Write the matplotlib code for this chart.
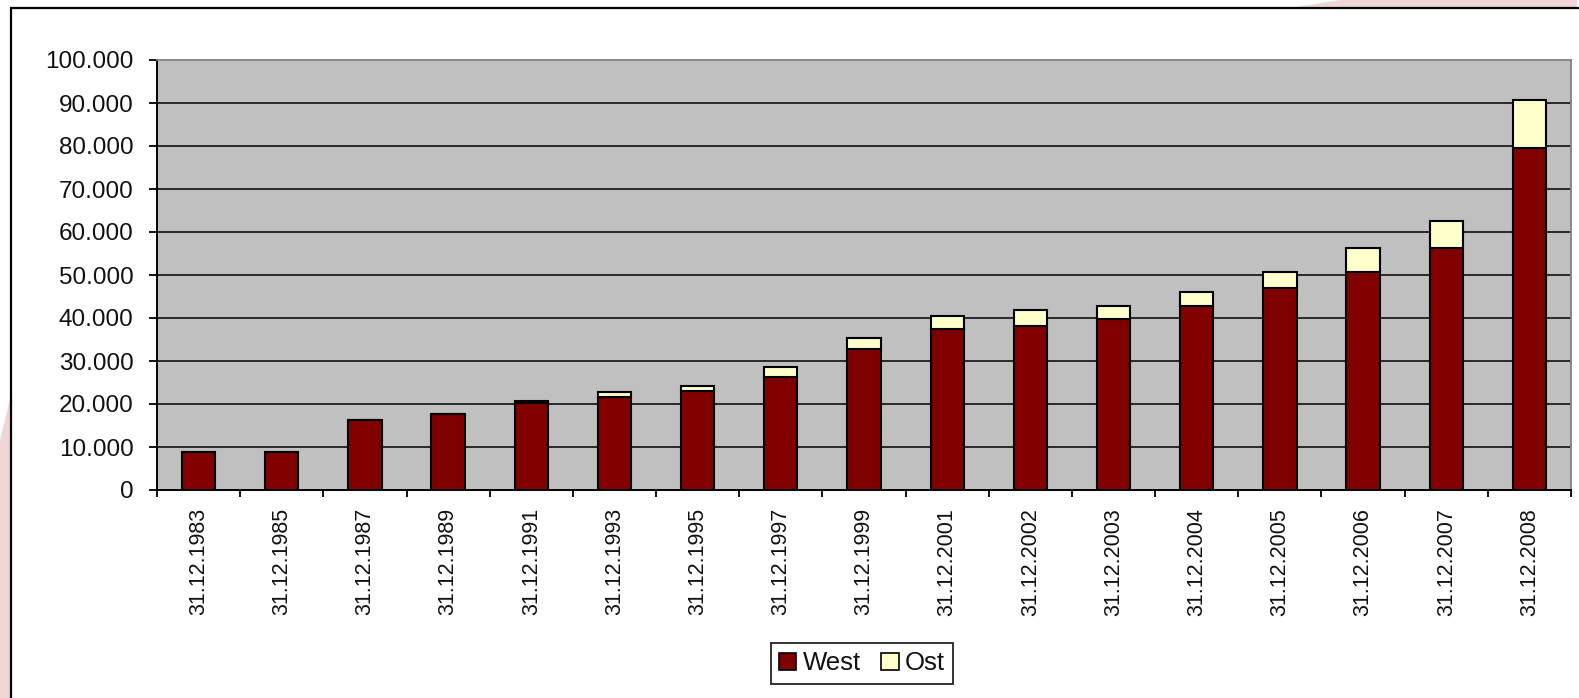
import matplotlib
matplotlib.use("Agg")
import matplotlib.pyplot as plt
from matplotlib.patches import Rectangle, Polygon, Patch
from matplotlib.ticker import FuncFormatter, FixedLocator
import numpy as np

categories = ["31.12.1983", "31.12.1985", "31.12.1987", "31.12.1989", "31.12.1991",
              "31.12.1993", "31.12.1995", "31.12.1997", "31.12.1999", "31.12.2001",
              "31.12.2002", "31.12.2003", "31.12.2004", "31.12.2005", "31.12.2006",
              "31.12.2007", "31.12.2008"]
west = [8900, 8900, 16300, 17700, 20300, 21600, 23000, 26300, 32900, 37400,
        38200, 39800, 42700, 46900, 50800, 56200, 79500]
ost = [0, 0, 0, 0, 300, 1300, 1300, 2200, 2400, 3100,
       3700, 3000, 3400, 3900, 5500, 6400, 11300]
series_names = ["West", "Ost"]
y_ticks = [0, 10000, 20000, 30000, 40000, 50000, 60000, 70000, 80000, 90000, 100000]

W, H = 1579, 698
fig = plt.figure(figsize=(W / 100, H / 100), dpi=100)
fig.patch.set_facecolor("white")
plt.rcParams['font.family'] = ['Liberation Sans', 'DejaVu Sans']

pink = "#f0d6d6"
# decorative background shapes
fig.patches.append(Polygon([(1293 / W, 1 - 7.5 / H), (1340 / W, 1.0), (1577 / W, 1.0), (1577 / W, 1 - 7.5 / H)],
                           closed=True, transform=fig.transFigure, facecolor=pink, edgecolor="none", zorder=0))
fig.patches.append(Polygon([(0, 0), (0, 1 - 440 / H), (11 / W, 1 - 395 / H), (11 / W, 0)],
                           closed=True, transform=fig.transFigure, facecolor=pink, edgecolor="none", zorder=0))
# chart area frame
fig.patches.append(Rectangle((11 / W, -0.05), 1.1, 1 - 7.5 / H + 0.05, transform=fig.transFigure,
                             facecolor="white", edgecolor="black", linewidth=1.6, zorder=1))

ax = fig.add_axes([157 / W, 1 - 490 / H, (1571 - 157) / W, (490 - 60) / H])
ax.set_zorder(2)
ax.set_facecolor("#c0c0c0")

x = np.arange(len(categories))
bw = 0.4
ax.bar(x, west, width=bw, color="#800000", edgecolor="black", linewidth=1.5, zorder=3, label=series_names[0])
ax.bar(x, ost, width=bw, bottom=west, color="#ffffcc", edgecolor="black", linewidth=1.5, zorder=3,
       label=series_names[1])

ax.set_xlim(-0.5, len(categories) - 0.5)
ax.set_ylim(0, 100000)
ax.yaxis.set_major_locator(FixedLocator(y_ticks))
ax.yaxis.set_major_formatter(FuncFormatter(lambda v, p: f"{int(v):,}".replace(",", ".")))
for v in y_ticks[1:-1]:
    ax.axhline(v, color="black", linewidth=1.1, zorder=2)

ax.set_xticks(x)
ax.set_xticklabels(categories, rotation=90, fontsize=15.5, color="#111111")
ax.set_xticks(np.arange(-0.5, len(categories) + 0.5, 1), minor=True)
ax.tick_params(axis="x", which="major", length=0, pad=13)
ax.tick_params(axis="x", which="minor", length=5, width=1.3, direction="out", color="black")
ax.tick_params(axis="y", which="major", length=6, width=1.3, direction="out", pad=11,
               labelsize=17.5, labelcolor="#111111")

for s in ["left", "bottom"]:
    ax.spines[s].set_color("black")
    ax.spines[s].set_linewidth(1.4)
for s in ["top", "right"]:
    ax.spines[s].set_color("#808080")
    ax.spines[s].set_linewidth(1.3)

handles = [Patch(facecolor="#800000", edgecolor="black", linewidth=1.2, label=series_names[0]),
           Patch(facecolor="#ffffcc", edgecolor="black", linewidth=1.2, label=series_names[1])]
leg = ax.legend(handles=handles, loc="center", bbox_to_anchor=(862 / W, 1 - 663.5 / H),
                bbox_transform=fig.transFigure, ncol=2, fontsize=18.5, frameon=True, fancybox=False,
                handlelength=0.68, handleheight=0.68, handletextpad=0.25, columnspacing=0.8,
                borderpad=0.32, borderaxespad=0)
leg.get_frame().set_edgecolor("black")
leg.get_frame().set_linewidth(1.4)
leg.get_frame().set_facecolor("white")
for t in leg.get_texts():
    t.set_color("#111111")

fig.savefig("out.png", dpi=100, facecolor=fig.get_facecolor())
